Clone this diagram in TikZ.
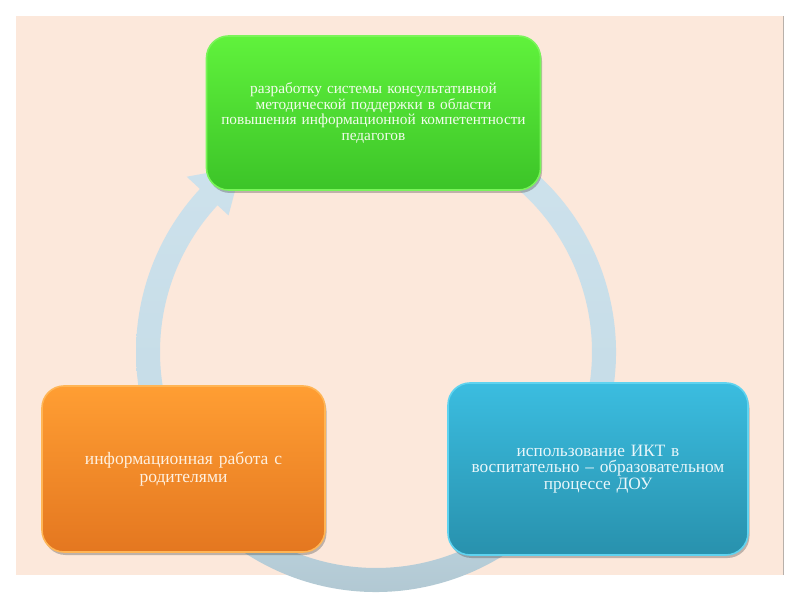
\documentclass[tikz,border=0pt]{standalone}
\usepackage{fontspec}
\setmainfont{Liberation Serif}
\usetikzlibrary{shadows}
\definecolor{panel}{HTML}{FCE8DB}
\definecolor{panelline}{HTML}{B8B0AA}
\definecolor{ringtop}{HTML}{D6E8F2}
\definecolor{ringmid}{HTML}{C4DBE6}
\definecolor{ringbot}{HTML}{9BB1BB}
\definecolor{gtop}{HTML}{60F23C}
\definecolor{gbot}{HTML}{3CC428}
\definecolor{gedge}{HTML}{7AF45A}
\definecolor{gtext}{HTML}{F2FCEC}
\definecolor{otop}{HTML}{FF9E33}
\definecolor{obot}{HTML}{E47720}
\definecolor{oedge}{HTML}{FFB555}
\definecolor{otext}{HTML}{FEF0E0}
\definecolor{btop}{HTML}{3BBDE0}
\definecolor{bbot}{HTML}{2891AD}
\definecolor{bedge}{HTML}{5ED3F0}
\definecolor{btext}{HTML}{E8F6FA}
\pgfdeclareverticalshading{ringshade}{100bp}{color(0bp)=(ringbot); color(9bp)=(ringbot); color(38bp)=(ringmid); color(100bp)=(ringtop)}
\tikzset{
  stage/.style={rectangle, rounded corners=22pt, align=center, inner sep=4pt,
    line width=1.6pt,
    drop shadow={shadow xshift=1.5pt, shadow yshift=-3pt, opacity=0.35, fill=black!70}},
}
\begin{document}
\begin{tikzpicture}[x=1pt,y=1pt]
\useasboundingbox (0,0) rectangle (800,600);
% panel
\fill[panel] (16,25) rectangle (783,584);
\draw[panelline, line width=1pt] (783,25) -- (783,584);
% circular arrow
\coordinate (c) at (376,248);
\begin{scope}
\clip[shift={(c)}]
  (60:240) arc[start angle=60, end angle=-222.8, radius=240]
  -- (137.2:258) -- (126:229) -- (137.2:201)
  -- (137.2:216) arc[start angle=-222.8, end angle=60, radius=216] -- cycle;
\shade[shading=ringshade] (130,6) rectangle (625,500);
\end{scope}
% stages
\node[stage, minimum width=333pt, minimum height=154pt, text width=326pt,
  top color=gtop, bottom color=gbot, draw=gedge, text=gtext,
  font=\fontsize{15.3}{15.5}\selectfont] (g) at (373.5,487)
  {разработку системы консультативной\\методической поддержки в области\\повышения информационной компетентности\\педагогов};
\node[stage, minimum width=283pt, minimum height=166pt, text width=272pt,
  top color=otop, bottom color=obot, draw=oedge, text=otext,
  font=\fontsize{17.5}{18.5}\selectfont] (o) at (183.5,131)
  {информационная работа с\\родителями};
\node[stage, minimum width=300pt, minimum height=172pt, text width=290pt,
  top color=btop, bottom color=bbot, draw=bedge, text=btext,
  font=\fontsize{17.3}{16.8}\selectfont] (b) at (598,131)
  {использование ИКТ в\\воспитательно – образовательном\\процессе ДОУ};
\end{tikzpicture}
\end{document}
